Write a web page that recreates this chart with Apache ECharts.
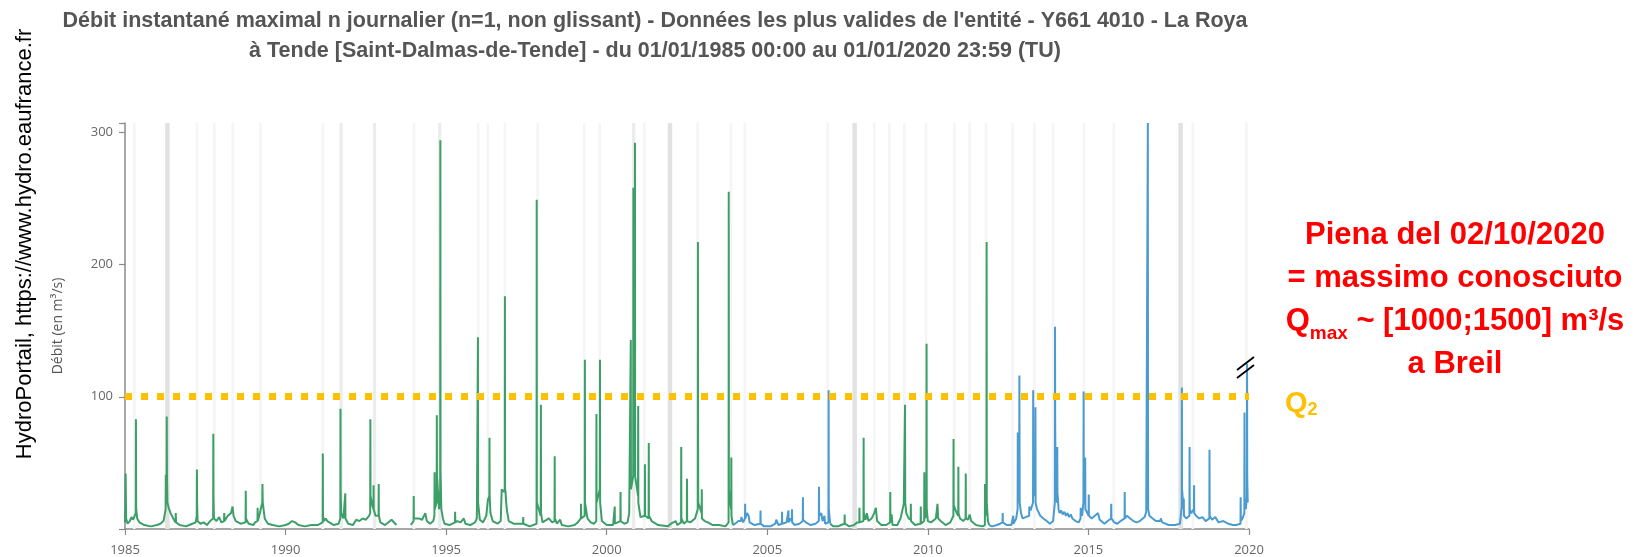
<!DOCTYPE html>
<html>
<head>
<meta charset="utf-8">
<title>Y661 4010 - La Roya à Tende</title>
<script src="https://cdn.jsdelivr.net/npm/echarts@6/dist/echarts.min.js"></script>
<style>
html, body { margin: 0; padding: 0; background: #fff; }
#chart { width: 1637px; height: 557px; }
</style>
</head>
<body>
<div id="chart"></div>
<script>
var greenA = [
	[1985.00,5],[1985.02,42],[1985.035,8],[1985.08,4],[1985.15,6],[1985.2,9],[1985.25,7],[1985.3,10],[1985.335,12],[1985.34,83],[1985.348,15],[1985.38,8],[1985.45,5],[1985.6,3],[1985.8,2],[1986.0,3],[1986.1,4],[1986.2,6],
	[1986.265,15],[1986.27,41],[1986.28,25],[1986.295,20],[1986.30,85],[1986.307,40],[1986.32,20],[1986.36,16],[1986.42,12],[1986.5,8],[1986.575,5],[1986.58,12],[1986.59,5],[1986.7,3],[1986.9,2],
	[1987.0,3],[1987.1,4],[1987.2,5],[1987.235,10],[1987.24,45],[1987.245,20],[1987.26,6],[1987.35,4],[1987.45,5],[1987.55,3],[1987.65,6],[1987.745,8],[1987.75,72],[1987.755,25],[1987.77,8],[1987.85,6],[1987.93,9],
	[1988.0,5],[1988.085,6],[1988.09,12],[1988.1,6],[1988.2,10],[1988.3,12],[1988.35,17],[1988.38,10],[1988.45,6],[1988.6,4],[1988.755,5],[1988.76,29],[1988.765,8],[1988.85,4],
	[1989.0,3],[1989.05,5],[1989.125,6],[1989.13,16],[1989.135,6],[1989.2,12],[1989.275,20],[1989.28,34],[1989.29,20],[1989.35,8],[1989.45,4],[1989.6,3],[1989.8,2],
	[1990.0,3],[1990.1,4],[1990.2,6],[1990.3,5],[1990.4,3],[1990.6,2],[1990.8,3],[1991.0,3],[1991.155,5],[1991.16,57],[1991.165,10],[1991.2,6],[1991.25,8],[1991.3,6],[1991.5,3],[1991.65,4],
	[1991.705,8],[1991.71,91],[1991.715,30],[1991.73,12],[1991.8,8],[1991.855,9],[1991.86,27],[1991.865,8],[1991.95,4],
	[1992.1,3],[1992.2,7],[1992.3,6],[1992.4,8],[1992.5,7],[1992.6,10],[1992.635,12],[1992.64,83],[1992.645,25],[1992.7,18],[1992.735,15],[1992.74,33],[1992.745,15],[1992.8,10],[1992.895,10],[1992.9,34],[1992.905,10],[1992.95,5],
	[1993.1,3],[1993.3,7],[1993.35,8],[1993.45,3],[1993.5,'-'],
	[1993.9,3],[1993.985,6],[1993.99,25],[1993.995,8],[1994.05,7],[1994.15,8],[1994.25,7],[1994.35,12],[1994.4,6],[1994.5,4],[1994.6,6],[1994.635,10],[1994.64,43],[1994.645,15],[1994.705,20],[1994.71,86],[1994.715,40],[1994.78,15],[1994.815,30],[1994.82,294],[1994.825,45],[1994.85,15],[1994.9,8],[1994.95,4],
	[1995.1,3],[1995.275,5],[1995.28,13],[1995.285,5],[1995.35,6],[1995.45,5],[1995.55,8],[1995.6,4],[1995.75,3],[1995.9,5],[1995.955,8],[1995.96,19],[1995.985,20],[1995.99,145],[1995.995,20],[1996.05,7],[1996.15,5],[1996.25,10],[1996.3,22],[1996.345,25],[1996.35,69],[1996.355,25],[1996.38,12],[1996.45,6],[1996.6,4],
	[1996.7,6],[1996.73,30],[1996.8,28],[1996.825,30],[1996.83,176],[1996.835,30],[1996.85,28],[1996.87,20],[1996.9,13],[1996.95,6],
	[1997.1,4],[1997.395,4],[1997.4,9],[1997.405,4],[1997.6,2],[1997.815,4],[1997.82,249],[1997.825,20],[1997.945,10],[1997.95,94],[1997.955,12],[1998.0,5],[1998.2,8],[1998.3,5],[1998.375,6],[1998.38,55],[1998.385,8],[1998.45,4],[1998.55,7],[1998.6,3],[1998.8,2],
	[1999.0,3],[1999.1,5],[1999.195,8],[1999.2,19],[1999.205,8],[1999.315,10],[1999.32,128],[1999.325,20],[1999.4,8],[1999.5,5],[1999.6,4],[1999.675,6],[1999.68,87],[1999.685,20],[1999.785,30],[1999.79,128],[1999.795,20],[1999.85,6],
	[2000.0,3],[2000.2,3],[2000.245,4],[2000.25,17],[2000.255,4],[2000.425,6],[2000.43,28],[2000.435,6],[2000.55,4],[2000.65,5],[2000.7,12],[2000.75,143],[2000.755,30],[2000.825,40],[2000.83,258],[2000.835,50],[2000.875,60],[2000.88,292],[2000.885,40],[2000.975,25],[2000.98,93],[2000.985,20],
	[2001.05,9],[2001.1,8],[2001.185,10],[2001.19,49],[2001.195,10],[2001.305,8],[2001.31,65],[2001.315,10],[2001.4,6],[2001.6,3],[2001.9,2],
	[2002.0,4],[2002.15,6],[2002.2,3],[2002.315,5],[2002.32,62],[2002.325,8],[2002.4,4],[2002.495,6],[2002.5,38],[2002.505,6],[2002.6,5],[2002.75,8],[2002.8,12],[2002.835,15],[2002.84,217],[2002.845,80],[2002.85,20],[2002.955,12],[2002.96,30],[2002.965,8],
	[2003.05,6],[2003.15,5],[2003.3,3],[2003.5,3],[2003.7,2],[2003.795,5],[2003.8,255],[2003.805,30],[2003.875,15],[2003.88,54],[2003.885,10],[2003.93,3]
];
var blueA = [
	[2003.93,3],[2004.0,4],[2004.1,6],[2004.185,6],[2004.19,9],[2004.25,5],[2004.305,8],[2004.31,19],[2004.315,8],[2004.37,12],[2004.42,10],[2004.45,5],[2004.6,3],[2004.785,4],[2004.79,14],[2004.795,4],[2004.9,2],
	[2005.1,2],[2005.25,4],[2005.28,7],[2005.35,3],[2005.455,4],[2005.46,13],[2005.465,4],[2005.6,5],[2005.655,5],[2005.66,14],[2005.665,5],[2005.72,8],[2005.765,6],[2005.77,15],[2005.775,5],[2005.85,3],
	[2006.0,4],[2006.105,6],[2006.11,24],[2006.115,7],[2006.2,5],[2006.35,3],[2006.5,4],[2006.605,6],[2006.61,32],[2006.615,10],[2006.68,12],[2006.72,6],[2006.78,10],[2006.8,4],[2006.905,5],[2006.91,105],[2006.915,15],[2006.96,4]
];
var greenB = [
	[2006.96,4],[2007.05,2],[2007.2,2],[2007.3,3],[2007.405,4],[2007.41,11],[2007.415,4],[2007.55,2],[2007.7,3],[2007.8,5],[2007.865,5],[2007.87,16],[2007.875,5],[2007.995,6],[2008.0,69],[2008.005,12],[2008.06,7],[2008.1,12],[2008.15,6],[2008.25,8],[2008.33,12],[2008.38,16],[2008.42,6],[2008.55,3],[2008.7,3],
	[2008.825,5],[2008.83,28],[2008.835,5],[2008.87,11],[2008.9,3],[2009.05,3],[2009.15,8],[2009.25,19],[2009.285,20],[2009.29,94],[2009.295,20],[2009.33,12],[2009.4,8],[2009.465,7],[2009.47,19],[2009.475,6],[2009.6,3],
	[2009.775,4],[2009.78,17],[2009.785,4],[2009.885,6],[2009.89,43],[2009.895,8],[2009.955,10],[2009.96,140],[2009.965,15],[2010.0,6],[2010.1,5],[2010.25,8],[2010.3,19],[2010.32,8],[2010.4,6],[2010.55,3],[2010.7,5],
	[2010.795,10],[2010.8,68],[2010.805,18],[2010.85,15],[2010.9,12],[2010.945,10],[2010.95,47],[2010.955,12],[2011.0,8],[2011.1,6],[2011.175,8],[2011.18,42],[2011.185,8],[2011.25,7],[2011.3,11],[2011.35,6],[2011.5,3],[2011.7,2],
	[2011.775,3],[2011.78,34],[2011.785,10],[2011.825,12],[2011.83,217],[2011.835,20],[2011.87,6],[2011.91,3]
];
var blueB = [
	[2011.91,3],[2012.0,2],[2012.15,3],[2012.25,4],[2012.325,5],[2012.33,12],[2012.335,5],[2012.45,3],[2012.6,3],[2012.655,4],[2012.66,10],[2012.665,4],[2012.75,8],[2012.795,15],[2012.8,73],[2012.805,20],[2012.845,30],[2012.85,116],[2012.855,61],[2012.86,20],[2012.9,12],[2012.95,8],
	[2013.05,9],[2013.155,10],[2013.16,17],[2013.2,14],[2013.275,20],[2013.28,105],[2013.285,40],[2013.3,25],[2013.345,30],[2013.35,92],[2013.355,20],[2013.4,15],[2013.5,10],[2013.6,8],[2013.7,6],[2013.8,4],[2013.9,6],
	[2013.955,20],[2013.96,153],[2013.965,80],[2013.98,30],[2014.025,20],[2014.03,62],[2014.035,28],[2014.07,15],[2014.1,12],[2014.15,14],[2014.2,11],[2014.25,13],[2014.3,10],[2014.35,12],[2014.4,9],[2014.45,11],[2014.5,8],[2014.6,6],[2014.7,5],
	[2014.755,8],[2014.76,16],[2014.8,10],[2014.845,20],[2014.85,104],[2014.855,30],[2014.895,20],[2014.9,54],[2014.905,15],[2015.005,10],[2015.01,26],[2015.015,10],[2015.1,8],[2015.2,10],[2015.3,12],[2015.35,7],[2015.5,4],[2015.6,6],
	[2015.705,8],[2015.71,19],[2015.715,8],[2015.8,5],[2015.9,4],[2016.0,6],[2016.125,8],[2016.13,28],[2016.135,8],[2016.2,10],[2016.3,8],[2016.4,6],[2016.5,5],[2016.6,6],[2016.75,9],[2016.8,13],
	[2016.845,12],[2016.85,307],[2016.855,69],[2016.86,15],[2016.9,10],[2017.0,8],[2017.1,6],[2017.245,6],[2017.25,8],[2017.3,5],[2017.5,3],[2017.7,3],[2017.85,4],
	[2017.905,17],[2017.91,107],[2017.915,30],[2017.965,15],[2017.97,23],[2017.975,10],[2018.05,8],[2018.145,10],[2018.15,62],[2018.155,15],[2018.2,12],[2018.285,15],[2018.29,33],[2018.295,12],[2018.35,10],[2018.45,8],[2018.55,9],[2018.65,6],
	[2018.765,8],[2018.77,60],[2018.775,10],[2018.85,7],[2018.95,9],[2019.05,5],[2019.2,6],[2019.35,4],[2019.5,3],[2019.6,3],[2019.735,4],[2019.74,24],[2019.745,6],[2019.8,8],[2019.855,12],[2019.86,88],[2019.865,20],[2019.9,15],[2019.935,25],[2019.94,125],[2019.945,40],[2019.96,20]
];

// bandes grises (périodes signalées), [début, fin]
var bandsFaint = [
	[1985.25,1985.33],[1987.20,1987.28],[1987.74,1987.82],[1988.31,1988.39],[1989.18,1989.26],[1991.12,1991.20],[1993.96,1994.04],[1995.96,1996.04],[1996.26,1996.34],
	[1996.79,1996.87],[1997.81,1997.89],[1999.26,1999.34],[1999.74,1999.82],[2001.13,2001.21],[2002.79,2002.87],[2003.83,2003.91],[2004.26,2004.34],[2006.84,2006.92],
	[2008.29,2008.37],[2008.76,2008.84],[2009.23,2009.31],[2009.90,2009.98],[2010.79,2010.87],[2011.26,2011.34],[2011.77,2011.85],[2012.60,2012.68],[2013.28,2013.36],
	[2013.86,2013.94],[2014.82,2014.90],[2015.75,2015.83],[2018.21,2018.29],[2019.88,2019.96]
];
var bandsMedium = [[1991.68,1991.78],[1992.72,1992.82],[1994.75,1994.85],[2000.79,2000.89]];
var bandsDark = [[1986.25,1986.39],[2001.90,2002.04],[2007.65,2007.79],[2017.80,2017.94]];

var q2 = 100.5;
var yTicks = [100, 200, 300];

var greenColor = '#3d9f68';
var blueColor = '#4a9bcf';

function toArea(bands) {
	var res = [];
	for (var i = 0; i < bands.length; i++) {
		res.push([{xAxis: bands[i][0]}, {xAxis: bands[i][1]}]);
	}
	return res;
}

function bandSeries(bands, color) {
	return {
		type: 'line', data: [], silent: true, z: 1,
		markArea: {silent: true, itemStyle: {color: color}, data: toArea(bands)}
	};
}

function flowSeries(name, data, color) {
	return {
		name: name, type: 'line', data: data, z: 3,
		showSymbol: false, symbol: 'none', silent: true, connectNulls: false,
		lineStyle: {color: color, width: 2},
		itemStyle: {color: color}
	};
}

var axisGrey = '#8a8a8a';
var labelFont = 'Open Sans, Liberation Sans, sans-serif';
var textFont = 'Liberation Sans, Arial, sans-serif';

var option = {
	animation: false,
	backgroundColor: '#fff',
	grid: {left: 125, top: 123, width: 1124, height: 413, containLabel: false},
	xAxis: {
		type: 'value', min: 1985, max: 2020, interval: 5,
		axisLine: {show: true, onZero: false, lineStyle: {color: axisGrey, width: 1.5}},
		axisTick: {show: true, length: 6, lineStyle: {color: axisGrey, width: 1.2}},
		axisLabel: {show: true, margin: 15, color: '#666', fontSize: 13, fontFamily: labelFont, formatter: function (v) { return String(v); }},
		splitLine: {show: false}
	},
	yAxis: {
		type: 'value', min: 0, max: 307, interval: 100,
		name: 'Débit (en m³/s)', nameLocation: 'middle', nameGap: 60,
		nameTextStyle: {color: '#555', fontSize: 14, fontFamily: labelFont},
		axisLine: {show: true, lineStyle: {color: axisGrey, width: 1.5}},
		axisTick: {show: true, length: 6, customValues: [0, 100, 200, 300, 307], lineStyle: {color: axisGrey, width: 1.2}},
		axisLabel: {show: true, margin: 12, customValues: yTicks, color: '#666', fontSize: 13, fontFamily: labelFont},
		splitLine: {show: false}
	},
	series: [
		bandSeries(bandsFaint, '#f5f5f5'),
		bandSeries(bandsMedium, '#ececec'),
		bandSeries(bandsDark, '#e2e2e2'),
		flowSeries('Données validées', greenA.concat([[2003.94, '-']], greenB), greenColor),
		flowSeries('Données brutes', blueA.concat([[2006.97, '-']], blueB), blueColor),
		{
			type: 'line', data: [], z: 5, silent: true,
			markLine: {
				silent: true, symbol: 'none', label: {show: false},
				lineStyle: {color: '#ffc000', width: 7, type: [7, 9], opacity: 1},
				data: [{yAxis: q2}]
			}
		}
	],
	graphic: [
		{
			type: 'text', x: 655, y: 21, silent: true,
			style: {
				text: "Débit instantané maximal n journalier (n=1, non glissant) - Données les plus valides de l'entité - Y661 4010 - La Roya",
				fill: '#555', fontSize: 21.5, fontWeight: 'bold', fontFamily: textFont,
				align: 'center', verticalAlign: 'middle', textAlign: 'center', textVerticalAlign: 'middle'
			}
		},
		{
			type: 'text', x: 655, y: 51, silent: true,
			style: {
				text: 'à Tende [Saint-Dalmas-de-Tende] - du 01/01/1985 00:00 au 01/01/2020 23:59 (TU)',
				fill: '#555', fontSize: 21.5, fontWeight: 'bold', fontFamily: textFont,
				align: 'center', verticalAlign: 'middle', textAlign: 'center', textVerticalAlign: 'middle'
			}
		},
		{
			type: 'text', x: 25, y: 244, rotation: Math.PI / 2, silent: true,
			style: {
				text: 'HydroPortail, https://www.hydro.eaufrance.fr',
				fill: '#000', fontSize: 22, fontFamily: textFont,
				align: 'center', verticalAlign: 'middle', textAlign: 'center', textVerticalAlign: 'middle'
			}
		},
		{
			type: 'text', x: 1455, y: 300, silent: true,
			style: {
				text: 'Piena del 02/10/2020\n= massimo conosciuto\n{q|Q}{sub|max}{q| ~ [1000;1500] m³/s}\na Breil',
				fill: '#ff0000', fontSize: 31, fontWeight: 'bold', lineHeight: 43, fontFamily: textFont,
				align: 'center', verticalAlign: 'middle', textAlign: 'center', textVerticalAlign: 'middle',
				rich: {
					q: {fill: '#ff0000', fontSize: 31, fontWeight: 'bold', lineHeight: 43, fontFamily: textFont},
					sub: {fill: '#ff0000', fontSize: 19, fontWeight: 'bold', lineHeight: 20, verticalAlign: 'bottom', fontFamily: textFont}
				}
			}
		},
		{
			type: 'text', x: 1285, y: 404, silent: true,
			style: {
				text: '{q|Q}{s|2}',
				fill: '#ffc000', fontSize: 29, fontWeight: 'bold', lineHeight: 30, fontFamily: textFont,
				align: 'left', verticalAlign: 'middle', textAlign: 'left', textVerticalAlign: 'middle',
				rich: {
					q: {fill: '#ffc000', fontSize: 29, fontWeight: 'bold', lineHeight: 30, fontFamily: textFont},
					s: {fill: '#ffc000', fontSize: 18, fontWeight: 'bold', lineHeight: 8, verticalAlign: 'bottom', fontFamily: textFont}
				}
			}
		},
		// symbole de coupure de l'axe
		{type: 'line', silent: true, z: 10, shape: {x1: 1237, y1: 370, x2: 1254, y2: 357}, style: {stroke: '#000', lineWidth: 1.8}},
		{type: 'line', silent: true, z: 10, shape: {x1: 1237, y1: 378, x2: 1254, y2: 365}, style: {stroke: '#000', lineWidth: 1.8}}
	]
};

var myChart = echarts.init(document.getElementById('chart'));
myChart.setOption(option);
</script>
</body>
</html>
